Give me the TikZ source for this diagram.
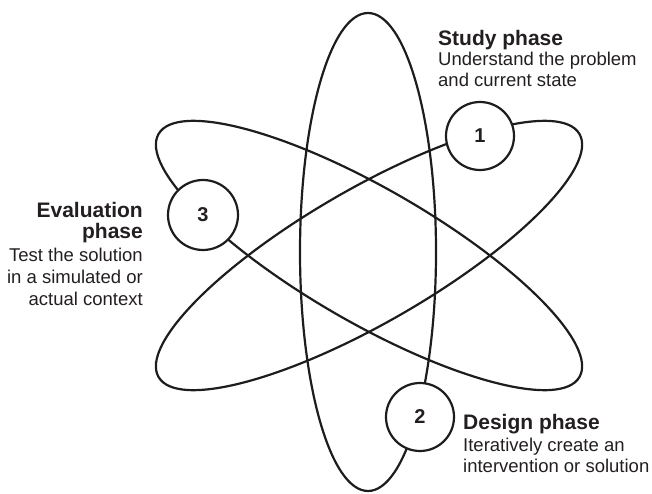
\documentclass[tikz,border=0pt]{standalone}
\usepackage{fontspec}
\setmainfont{Liberation Sans}
\definecolor{ink}{HTML}{1E1C1D}
\definecolor{txt}{HTML}{231F20}
\tikzset{
  orbit/.style={draw=ink, line width=2.2pt},
  phasecirc/.style={circle, draw=ink, fill=white, line width=2.2pt, minimum size=68pt, inner sep=0pt, text=txt, font=\bfseries\fontsize{20}{20}\selectfont},
  head/.style={inner sep=0pt, text=txt, font=\bfseries\fontsize{21}{21}\selectfont},
  body/.style={inner sep=0pt, text=txt, font=\fontsize{18.5}{18.5}\selectfont},
}
\begin{document}
\begin{tikzpicture}[x=1pt,y=-1pt]
\useasboundingbox (0,0) rectangle (652,494);
% orbits
\draw[orbit] (368,252) ellipse [x radius=68, y radius=239];
\draw[orbit, rotate around={-30:(369,255.5)}] (369,255.5) ellipse [x radius=243, y radius=67];
\draw[orbit, rotate around={30:(369,255.5)}] (369,255.5) ellipse [x radius=243, y radius=67];
% phase circles
\node[phasecirc] (c1) at (480,136) {1};
\node[phasecirc] (c2) at (420,417) {2};
\node[phasecirc, minimum size=70pt] (c3) at (203,215) {3};
% Study phase
\node[head, anchor=base west] (s1) at (438,46) {Study phase};
\node[body, anchor=base west] (s2) at (438,66) {Understand the problem};
\node[body, anchor=base west] (s3) at (438,87) {and current state};
% Design phase
\node[head, anchor=base west] (d1) at (463,429) {Design phase};
\node[body, anchor=base west] (d2) at (463,451) {Iteratively create an};
\node[body, anchor=base west] (d3) at (463,472) {intervention or solution};
% Evaluation phase
\node[head, anchor=base east] (e1) at (143,217) {Evaluation};
\node[head, anchor=base east] (e2) at (143,238) {phase};
\node[body, anchor=base east] (e3) at (143,261) {Test the solution};
\node[body, anchor=base east] (e4) at (143,283) {in a simulated or};
\node[body, anchor=base east] (e5) at (143,305) {actual context};
\end{tikzpicture}
\end{document}
